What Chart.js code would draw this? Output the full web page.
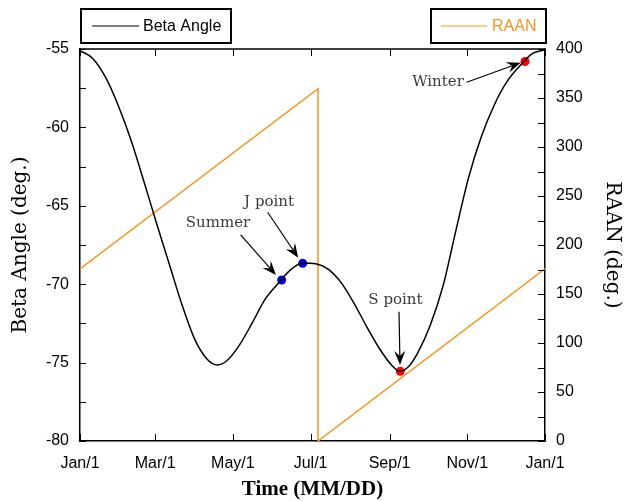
<!DOCTYPE html>
<html lang="en">
<head>
<meta charset="UTF-8">
<title>Beta Angle and RAAN</title>
<script src="https://cdn.jsdelivr.net/npm/chart.js"></script>
<style>
    body {
        margin: 0;
        background: #fff;
    }

    #wrap {
        width: 625px;
        height: 501px;
    }
</style>
</head>
<body>
<div id="wrap"><canvas id="chart" width="625" height="501"></canvas></div>
<script>
    // day of year (0 = Jan/1) and beta angle (deg.)
    const betaDays = [0, 10, 20, 30, 40, 50, 60, 70, 80, 90, 100, 108, 115, 125, 135, 145, 155, 165, 175, 185,
        195, 205, 215, 225, 235, 245, 251, 258, 265, 275, 285, 295, 305, 315, 325, 335, 345, 355, 365];
    const betaValues = [-55.1, -55.6, -56.8, -58.6, -60.8, -63.4, -66.1, -68.7, -71.3, -73.5, -74.8, -75.15, -74.9,
        -73.9, -72.5, -71.0, -70.0, -69.1, -68.65, -68.7, -69.05, -69.9, -71.2, -72.7, -74.1, -75.2, -75.55, -75.25,
        -74.4, -72.6, -70.1, -66.6, -63.2, -60.6, -58.6, -57.1, -56.1, -55.3, -55.05];

    // RAAN (deg.), wraps at 360
    const raanDays = [0, 186.8, 186.8, 365];
    const raanValues = [175.5, 359.5, 0, 175.6];

    const monthDays = [0, 59, 120, 181, 243, 304, 365];
    const monthLabels = ['Jan/1', 'Mar/1', 'May/1', 'Jul/1', 'Sep/1', 'Nov/1', 'Jan/1'];

    // highlighted points
    const markerNames = ['Summer', 'J point', 'S point', 'Winter'];
    const markerDays = [158.3, 174.8, 251.4, 349.3];
    const markerValues = [-69.73, -68.67, -75.55, -55.8];
    const markerColors = ['#0000e0', '#0000e0', '#ff0000', '#ff0000'];

    // annotation text and arrows, in data units (day, beta)
    const noteLabelAt = [[108.3, -66.1], [148.4, -64.76], [247.6, -71.0], [281, -57.1]];
    const noteArrowFrom = [[126.1, -66.86], [147.3, -65.41], [250.4, -71.75], [303.5, -57.12]];
    const noteArrowTo = [[153.8, -69.41], [171.3, -68.31], [251.2, -75.15], [345.9, -55.87]];

    const orange = '#f7941d';

    function drawArrow(ctx, x1, y1, x2, y2) {
        const a = Math.atan2(y2 - y1, x2 - x1);
        const c = Math.cos(a), s = Math.sin(a);
        const L = 14, W = 5.5, N = 9;
        ctx.beginPath();
        ctx.moveTo(x1, y1);
        ctx.lineTo(x2 - N * c, y2 - N * s);
        ctx.stroke();
        ctx.beginPath();
        ctx.moveTo(x2, y2);
        ctx.lineTo(x2 - L * c - W * s, y2 - L * s + W * c);
        ctx.lineTo(x2 - N * c, y2 - N * s);
        ctx.lineTo(x2 - L * c + W * s, y2 - L * s - W * c);
        ctx.closePath();
        ctx.fill();
    }

    const decorPlugin = {
        id: 'decor',
        afterDraw(chart) {
            const { ctx, chartArea: area, scales } = chart;
            const x = scales.x, y = scales.y, y2 = scales.y2;
            ctx.save();
            ctx.strokeStyle = '#000';
            ctx.lineWidth = 1.5;

            // top frame line
            ctx.beginPath();
            ctx.moveTo(area.left, area.top);
            ctx.lineTo(area.right, area.top);
            ctx.stroke();

            // inward ticks
            ctx.lineWidth = 1;
            ctx.beginPath();
            monthDays.forEach(d => {
                const px = Math.round(x.getPixelForValue(d)) + 0.5;
                ctx.moveTo(px, area.bottom);
                ctx.lineTo(px, area.bottom - 7);
                ctx.moveTo(px, area.top);
                ctx.lineTo(px, area.top + 7);
            });
            for (let v = -80; v <= -55; v += 2.5) {
                const py = Math.round(y.getPixelForValue(v)) + 0.5;
                ctx.moveTo(area.left, py);
                ctx.lineTo(area.left + 6, py);
            }
            for (let v = 0; v <= 400; v += 25) {
                const py = Math.round(y2.getPixelForValue(v)) + 0.5;
                ctx.moveTo(area.right, py);
                ctx.lineTo(area.right - 7, py);
            }
            ctx.stroke();

            // annotations
            ctx.lineWidth = 1.2;
            ctx.fillStyle = '#000';
            markerNames.forEach((name, i) => {
                const f = noteArrowFrom[i], t = noteArrowTo[i];
                drawArrow(ctx, x.getPixelForValue(f[0]), y.getPixelForValue(f[1]),
                    x.getPixelForValue(t[0]), y.getPixelForValue(t[1]));
            });
            ctx.fillStyle = '#3a3a3a';
            ctx.font = '15px "DejaVu Serif"';
            ctx.textAlign = 'center';
            ctx.textBaseline = 'middle';
            markerNames.forEach((name, i) => {
                const p = noteLabelAt[i];
                ctx.fillText(name, x.getPixelForValue(p[0]), y.getPixelForValue(p[1]));
            });

            // legend boxes
            ctx.lineWidth = 2;
            ctx.strokeStyle = '#000';
            ctx.strokeRect(81, 9, 150, 34);
            ctx.strokeRect(431, 9, 115, 34);
            ctx.lineWidth = 1.2;
            ctx.beginPath();
            ctx.moveTo(92, 26);
            ctx.lineTo(139, 26);
            ctx.stroke();
            ctx.strokeStyle = orange;
            ctx.beginPath();
            ctx.moveTo(441, 26);
            ctx.lineTo(487, 26);
            ctx.stroke();
            ctx.font = '16px "Liberation Sans"';
            ctx.textAlign = 'left';
            ctx.fillStyle = '#000';
            ctx.fillText('Beta Angle', 143, 27);
            ctx.fillStyle = orange;
            ctx.fillText('RAAN', 492, 27);
            ctx.restore();
        }
    };

    const tickFont = { family: 'Liberation Sans', size: 16 };
    const titleFont = { family: 'DejaVu Serif', size: 20 };

    const chart = new Chart(document.getElementById('chart').getContext('2d'), {
        type: 'line',
        data: {
            datasets: [{
                label: 'Beta Angle',
                data: betaDays.map((d, i) => ({ x: d, y: betaValues[i] })),
                borderColor: '#000',
                borderWidth: 1.5,
                pointRadius: 0,
                cubicInterpolationMode: 'monotone',
                yAxisID: 'y'
            }, {
                label: 'RAAN',
                data: raanDays.map((d, i) => ({ x: d, y: raanValues[i] })),
                borderColor: orange,
                borderWidth: 1.5,
                pointRadius: 0,
                tension: 0,
                yAxisID: 'y2'
            }, {
                label: 'Points',
                type: 'scatter',
                data: markerDays.map((d, i) => ({ x: d, y: markerValues[i] })),
                pointRadius: 4.5,
                pointBackgroundColor: markerColors,
                pointBorderWidth: 0,
                showLine: false,
                yAxisID: 'y'
            }]
        },
        options: {
            responsive: false,
            animation: false,
            layout: { padding: { top: 49 } },
            plugins: {
                legend: { display: false },
                tooltip: { enabled: false }
            },
            scales: {
                x: {
                    type: 'linear',
                    min: 0,
                    max: 365,
                    afterBuildTicks: s => { s.ticks = monthDays.map(v => ({ value: v })); },
                    afterFit: s => { s.height = 60; },
                    grid: { display: false, drawTicks: false },
                    border: { color: '#000', width: 1.5 },
                    ticks: {
                        autoSkip: false,
                        maxRotation: 0,
                        padding: 13,
                        color: '#000',
                        font: tickFont,
                        callback: (v, i) => monthLabels[i]
                    },
                    title: {
                        display: true,
                        text: 'Time (MM/DD)',
                        color: '#000',
                        font: { family: 'Liberation Serif', size: 21, weight: 'bold' },
                        padding: { top: 0, bottom: -1 }
                    }
                },
                y: {
                    position: 'left',
                    min: -80,
                    max: -55,
                    afterFit: s => { s.width = 80; },
                    grid: { display: false, drawTicks: false },
                    border: { color: '#000', width: 1.5 },
                    ticks: { stepSize: 5, padding: 11, color: '#000', font: tickFont },
                    title: {
                        display: true,
                        text: 'Beta Angle (deg.)',
                        color: '#000',
                        font: titleFont,
                        padding: { top: 9, bottom: 0 }
                    }
                },
                y2: {
                    position: 'right',
                    min: 0,
                    max: 400,
                    afterFit: s => { s.width = 80; },
                    grid: { display: false, drawTicks: false },
                    border: { color: '#000', width: 1.5 },
                    ticks: { stepSize: 50, padding: 11, color: '#000', font: tickFont },
                    title: {
                        display: true,
                        text: 'RAAN (deg.)',
                        color: '#000',
                        font: titleFont,
                        padding: { top: 1, bottom: 0 }
                    }
                }
            }
        },
        plugins: [decorPlugin]
    });
</script>
</body>
</html>
